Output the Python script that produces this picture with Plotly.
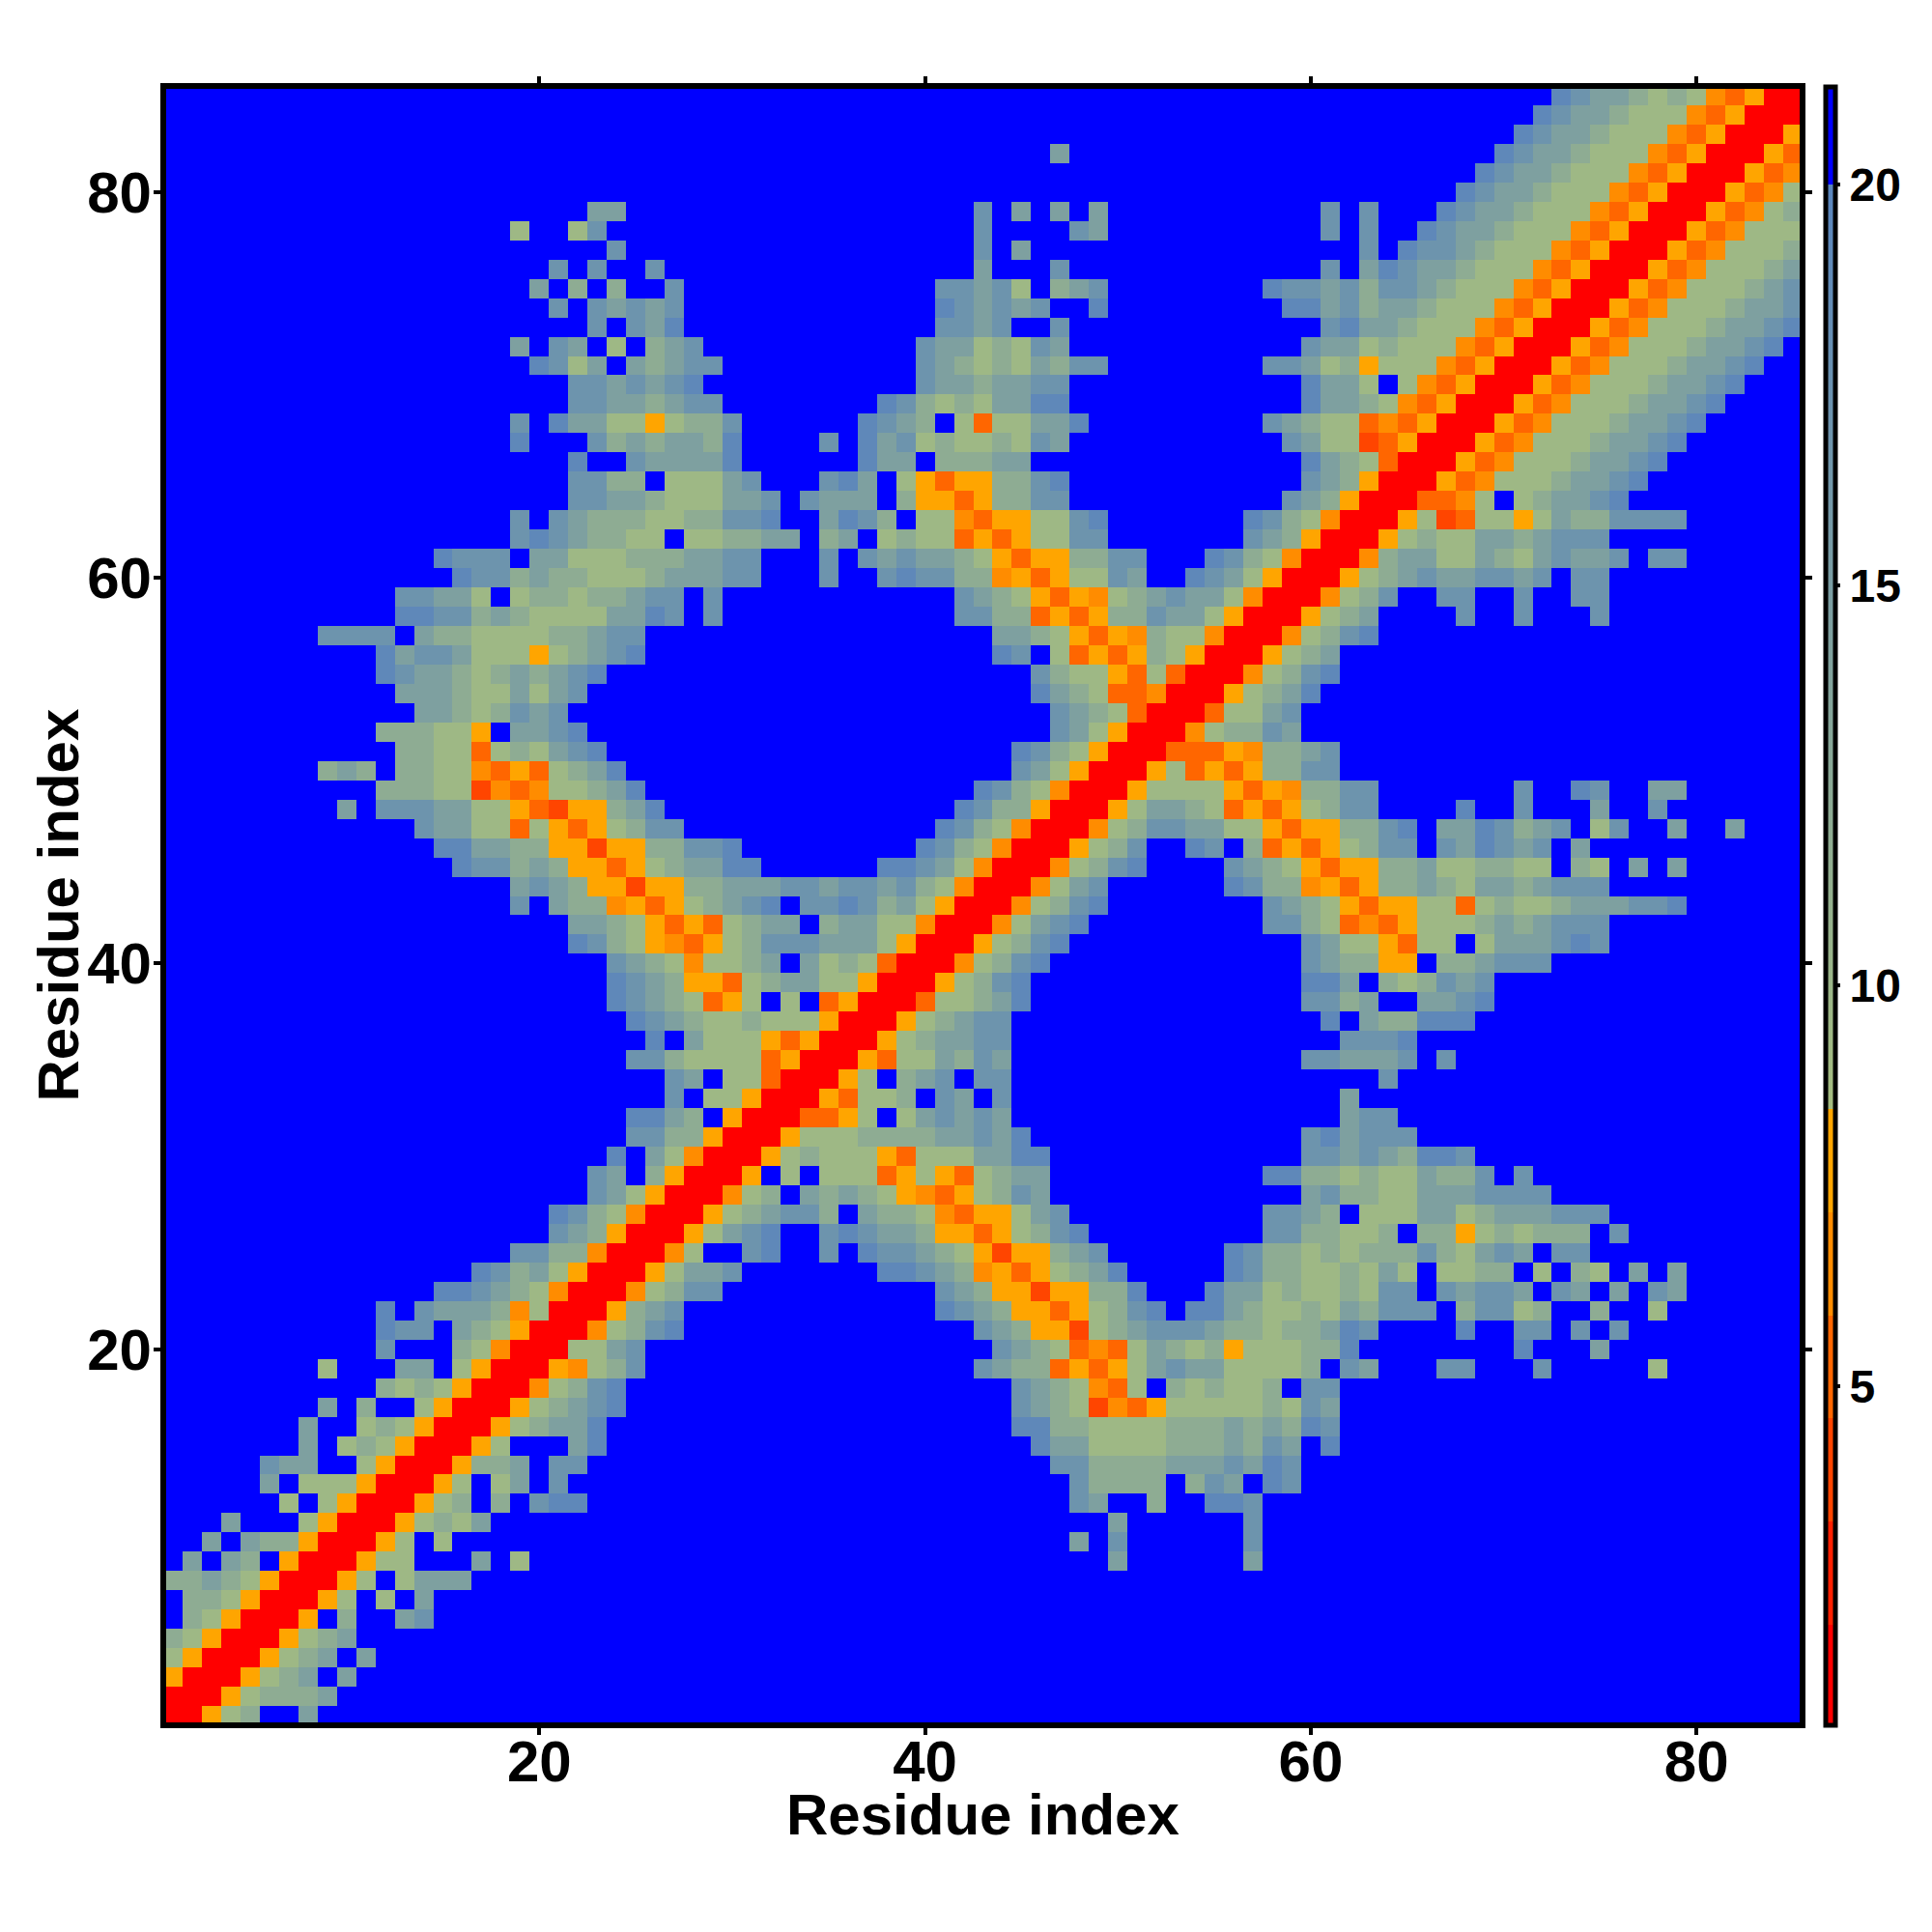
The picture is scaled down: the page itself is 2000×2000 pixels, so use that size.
import plotly.graph_objects as go

N_RES = 85
TICKS = [20, 40, 60, 80]
CBAR_TICKS = [5, 10, 15, 20]
AXIS_TITLE = "Residue index"
Z_MIN, Z_MAX = 0.77, 21.23
BAND_EDGES = [0.77, 2.01, 3.30, 4.60, 5.87, 7.16, 8.46]
BAND_COLORS = ["#ff0000", "#ff2000", "#ff4500", "#ff6600", "#ff8c00", "#ffa500"]
GRAD_LOW, GRAD_HIGH = "#a5bd80", "#5a85bd"
GRAD_END = 20.0
LEVELS = {"R": 1.4, "E": 4.0, "O": 5.2, "N": 6.5, "A": 7.8,
          "5": 9.5, "4": 12.0, "3": 14.5, "2": 17.0, "1": 19.3, ".": 20.6}

# (row, first column, codes) -- everything not listed is the blue background
SEGMENTS = [
(85,73,"12334545NOARR"),
(84,72,"12334555NOARRR"),
(83,71,"12334555NOARRRA"),
(82,47,"3"),(82,70,"12334555NOARRRAO"),
(81,69,"12334555NOARRRAON"),
(80,68,"12334555NOARRRAON5"),
(79,23,"33"),(79,43,"2.3.3.3"),(79,61,"2.2"),(79,67,"12334555NOARRRAON54"),
(78,19,"5"),(78,22,"52"),(78,43,"2"),(78,48,"23"),(78,61,"2.2"),(78,66,"12334555NOARRRAON555"),
(77,24,"2"),(77,43,"2.3"),(77,63,"2"),(77,65,"12234555NOARRRAON5554"),
(76,21,"2.2"),(76,26,"2"),(76,43,"3"),(76,47,"2"),(76,61,"2"),(76,63,"312334555NOARRRAON55543"),
(75,20,"3.4.4"),(75,27,"2"),(75,41,"22325.432"),(75,58,"1223242234555NOARRRAON555432"),
(74,21,"2.23232"),(74,41,"123232..1"),(74,59,"11324334555NOARRRAON5554332"),
(73,23,"2.231"),(73,41,"2232..2"),(73,61,"21334555NOARRRAON55543321"),
(72,19,"3.23.5.432"),(72,40,"23354523"),(72,60,"23354555NOARRRAON55543321"),
(71,20,"1253.34322"),(71,40,"2345453422"),(71,58,"22354A555NOARRRAON55543321"),
(70,22,"2232321"),(70,40,"23343322"),(70,60,"1335.5NOARRRAON55543321"),
(69,22,"22334322"),(69,38,"1245453311"),(69,60,"13345NOARRRAON55543321"),
(68,19,"2.13355A5442"),(68,37,"1234.5O55331"),(68,58,"23455ONOARRRAON55543321"),
(67,19,"1"),(67,23,"24343341"),(67,35,"2.13254554523"),(67,59,"2355EOARRRAON55543321"),
(66,22,"1..233331"),(66,37,"133.44433"),(66,60,"1345ORRRAON55543321"),
(65,22,"2244.55532"),(65,35,"213.5AOAA4421"),(65,60,"234ARRRAON55543321"),
(64,22,"22334555332"),(64,34,"2333.4AAOA4422"),(64,59,"234ARRROON5.543321"),
(63,19,"2.234445544221"),(63,35,"3124.55NOAA5521"),(63,57,"1245NRRRA5EO55A53442222"),
(62,19,"21234455.554433"),(62,35,"43.5455OAOA5522"),(62,57,"234ARRRA54553343222"),
(61,15,"1222.335554443322"),(61,35,"2.2323345AOAA4422"),(61,55,"1245NRRRN4335534532332.22"),
(60,16,"1224344555433322"),(60,35,"2"),(60,38,"212244NAOA5523"),(60,54,"1235ARRRA5432332232.22"),
(59,13,"22335.544544322.2"),(59,42,"2345AOAN5432335NRRRN542..22..2..22"),
(58,13,"112243455553312.2"),(58,42,"2244OAOA442335ARRRA543....2..2...2"),
(57,9,"2222.344555544322"),(57,44,"3345AOAN455NRRRN5421"),
(56,12,"13223555A54321"),(56,44,"12.5OAOA45ARRRA543"),
(55,12,"123345434321"),(55,46,"2455AO5ORRRN5421"),
(54,13,"3334553532"),(54,46,"1345OONRRRA5431"),
(53,14,"33454232"),(53,47,"2345ORRRO5532"),
(52,12,"44455A.3321"),(52,47,"235ARRRN54423"),
(51,13,"4455O545321"),(51,45,"1245ARRROOOAN4432"),
(50,9,"434.4455NOAO5431"),(50,45,"235ARRRA5OAOA4422"),
(49,12,"44455ENON55431"),(49,43,"1245NRRRA5555AOAN4422"),(49,71,"2..12..33"),
(48,10,"3.2223355AOEAA431"),(48,42,"1244ARRRA53345OAOA5422"),(48,68,"1..2...3..2"),
(47,14,"23355O5AOA5422"),(47,41,"1245NRRRN54223355AOAA4421.3312432.52..3..3"),
(46,15,"113344AAEAA44221"),(46,40,"1245NRRRA542..12.4OAOA5422.231232.3"),
(45,16,"122434AAOA543311"),(45,38,"11235NRRRN5421....2345AOAA443554455.45.3.3"),
(44,19,"3234AAEAA44333223223245NRRRN532......1244NAOA443453343222"),
(43,19,"2.344NAOA54321.2212435ARRRN5421"),(43,58,"2345AOAA55O54554333221"),
(42,22,"3345AOAO5433.43355NRRRN5321"),(42,58,"2245ONOA5554343222"),
(41,22,"1245ANOA542223335ARRRA5421"),(41,60,"2355AO55.5333212"),
(40,24,"2345N5543.3545ORRRN5421"),(40,60,"2344AA.443222"),
(39,24,"1234AAO543355ARRRA5421"),(39,60,"113.454232"),
(38,24,"12345OA5.5.OARRRO55431"),(38,60,"2243..3321"),
(37,25,"1234554555ARRRA54322"),(37,61,"1.344111"),
(36,26,"1.3555AOARRRA543322"),(36,62,"2221"),
(35,25,"2245555OARRRAO553423"),(35,60,"223332.2"),
(34,27,"23.55ORRRA5.432.22"),(34,64,"2"),
(33,27,"2.55ARRRAO554.23.2"),(33,62,"3"),
(32,25,"1134.ARRROOA5.532323"),(32,62,"322"),
(31,25,"2244ARRRA555444433231"),(31,60,"213222"),
(30,24,"1.35NRRRA54555AO5553311"),(30,60,"223234112"),
(29,23,"23.4ARRRA.5.555OA5AO5433"),(29,58,"114454553442.2"),
(28,23,"235ARRRN54.34345ANOA5423"),(28,60,"3244553332222"),
(27,21,"1245NRRRA543224.3445NOAA532"),(27,58,"2234.5553354333222"),
(26,21,"234ARRRA5321..212334AAOA5421"),(26,58,"2244554.44A545444.2"),
(25,19,"2244NRRRN5..21..2.122345AEAA432"),(25,56,"1244545444245323.22"),
(24,17,"12435ARRRA5332"),(24,38,"11234NAOA5431"),(24,56,"1244554535.5544.5.45.3.3"),
(23,15,"112345NRRRN5422"),(23,41,"234AAEAA441"),(23,55,"13354554522.23223.23.3.23"),
(22,12,"1.23334N5RRRA432"),(22,41,"1234AAOA5421.1134554534222.42254..4..5"),
(21,12,"122.345ARRRN5421"),(21,43,"234AAE543222344544312....1..22.2.2"),
(20,12,"2...45NRRR5532"),(20,44,"2345ONO53454A555441"),(20,71,"1...3"),
(19,9,"5...33.5ARRRAN542"),(19,43,"2344OAOA5323355554.23"),(19,67,"22"),(19,72,"2"),(19,78,"5"),
(18,12,"4545ARRRN5421"),(18,45,"2345NO5.454554.22"),
(17,9,"3.4..5ARRRA54321"),(17,45,"2345ENOA555554523"),
(16,8,"3..545ARRRA54331"),(16,45,"11445555444343412"),
(15,8,"3.545ARRRA5...31"),(15,46,"13355554443423.1"),
(14,6,"233..5ARRRA443.22"),(14,47,"2244443332312"),
(13,6,"3.555ARRRA5.53.2"),(13,48,"24444.423.12"),
(12,7,"5.5ARRRA54.4.211"),(12,48,"23..4..112"),
(11,4,"3...5ARRRA5453"),(11,50,"3"),(11,57,"2"),
(10,1,"..3.344ARRRA5.5"),(10,48,"3.2"),(10,57,"2"),
(9,1,".3.34.ARRRA55...3.5"),(9,50,"3"),(9,57,"3"),
(8,1,"44345ARRRA5.5333"),
(7,1,".445ARRRA5.5.3"),
(6,1,".45ARRRA.4..32"),
(5,1,"45ARRRA543"),
(4,1,"5ARRRA543.3"),
(3,1,"ARRRA543.3"),
(2,1,"RRRA54443"),
(1,1,"RRA54..3"),
]

residues = list(range(1, N_RES + 1))
z = [[LEVELS["."]] * N_RES for _ in residues]
for row, col, codes in SEGMENTS:
    for k, code in enumerate(codes):
        z[row - 1][col - 1 + k] = LEVELS[code]

def pos(v):
    return (v - Z_MIN) / (Z_MAX - Z_MIN)

colorscale = []
for i, c in enumerate(BAND_COLORS):
    colorscale += [[pos(BAND_EDGES[i]), c], [pos(BAND_EDGES[i + 1]), c]]
colorscale += [[pos(BAND_EDGES[-1]), GRAD_LOW], [pos(GRAD_END), GRAD_HIGH],
               [pos(GRAD_END), "#0000ff"], [1.0, "#0000ff"]]

FONT = "Liberation Sans"
title_font = dict(family=FONT, size=60, color="black", weight="bold")
fig = go.Figure(go.Heatmap(
    x=residues, y=residues, z=z, zmin=Z_MIN, zmax=Z_MAX, colorscale=colorscale,
    colorbar=dict(
        thickness=10, thicknessmode="pixels", len=1.003, lenmode="fraction",
        x=1.0044, xref="paper", xanchor="left", xpad=20, y=0.5, yanchor="middle", ypad=0,
        outlinewidth=5, outlinecolor="black", borderwidth=0,
        tickmode="array", tickvals=CBAR_TICKS, ticktext=[str(t) for t in CBAR_TICKS],
        ticks="outside", ticklen=3, tickwidth=4, tickcolor="black",
        tickfont=dict(family=FONT, size=48, color="black", weight="bold"),
    ),
))
axis = dict(
    range=[0.65, 85.35], tickmode="array", tickvals=TICKS, ticktext=[str(t) for t in TICKS],
    ticks="outside", ticklen=7, tickwidth=4, tickcolor="black",
    showline=True, linewidth=6, linecolor="black", mirror="ticks",
    showgrid=False, zeroline=False, automargin=False,
    tickfont=dict(family=FONT, size=60, color="black", weight="bold"),
)
fig.update_layout(
    width=2000, height=2000, margin=dict(l=164, r=145, t=84, b=225),
    paper_bgcolor="white", plot_bgcolor="#0000ff", showlegend=False,
    xaxis=dict(axis, ticklabelstandoff=-24),
    yaxis=dict(axis, ticklabelstandoff=-10),
    annotations=[
        dict(text=AXIS_TITLE, xref="paper", yref="paper", x=0.5, y=0, yshift=-95,
             xanchor="center", yanchor="middle", showarrow=False, font=title_font),
        dict(text=AXIS_TITLE, xref="paper", yref="paper", x=0, y=0.5, xshift=-112,
             xanchor="center", yanchor="middle", textangle=-90, showarrow=False, font=title_font),
    ],
)
fig.write_html("out.html")
